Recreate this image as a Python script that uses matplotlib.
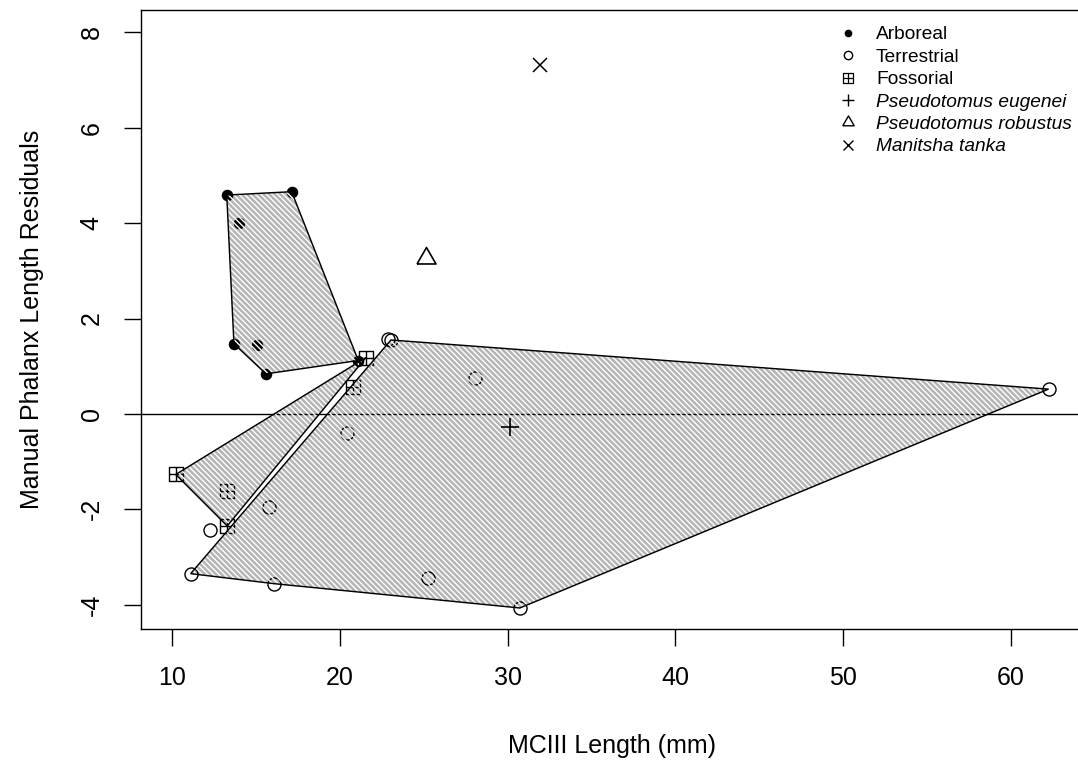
import numpy as np
import matplotlib.pyplot as plt
from matplotlib.path import Path
from matplotlib.patches import Polygon
from matplotlib.lines import Line2D

plt.rcParams['font.family'] = ['Liberation Sans', 'DejaVu Sans']
plt.rcParams['hatch.linewidth'] = 1.0
plt.rcParams['axes.unicode_minus'] = False

# group points (MCIII length, residual)
arb_x = [13.26, 17.13, 14.01, 13.69, 15.08, 15.60, 21.10]
arb_y = [4.59, 4.66, 4.01, 1.47, 1.45, 0.84, 1.12]
ter_x = [11.11, 12.26, 15.80, 16.08, 20.44, 22.85, 23.05, 25.27, 28.05, 30.73, 62.25]
ter_y = [-3.35, -2.44, -1.95, -3.56, -0.39, 1.58, 1.55, -3.45, 0.76, -4.07, 0.52]
fos_x = [10.22, 13.26, 13.29, 20.80, 21.55]
fos_y = [-1.27, -1.62, -2.35, 0.56, 1.18]

# polygon outlines (indices into each group)
arb_hull = [0, 1, 6, 5, 3]
ter_hull = [0, 6, 10, 9, 3]
fos_hull = [0, 4, 2]

# fossil specimens
eug_x, eug_y = 30.13, -0.27
rob_x, rob_y = 25.11, 3.27
man_x, man_y = 31.92, 7.31

labels = ['Arboreal', 'Terrestrial', 'Fossorial', 'Pseudotomus eugenei',
          'Pseudotomus robustus', 'Manitsha tanka']

# square with a cross (R pch 12)
sq_plus = Path([(-1, -1), (1, -1), (1, 1), (-1, 1), (-1, -1),
                (0, -1), (0, 1), (-1, 0), (1, 0)],
               [Path.MOVETO, Path.LINETO, Path.LINETO, Path.LINETO, Path.CLOSEPOLY,
                Path.MOVETO, Path.LINETO, Path.MOVETO, Path.LINETO])
tri = [(-1, -0.577), (1, -0.577), (0, 1.155), (-1, -0.577)]

fig = plt.figure(figsize=(10.78, 7.66), dpi=100)
ax = fig.add_axes([0.1305, 0.1789, 0.8741, 0.808])

ax.axhline(0, color='black', lw=1.0, zorder=1)

ax.plot(arb_x, arb_y, 'o', color='black', ms=7.3, zorder=1.5)
ax.plot(ter_x, ter_y, 'o', mfc='none', mec='black', mew=1.0, ms=9.4, zorder=1.5)
ax.plot(fos_x, fos_y, ls='none', marker=sq_plus, mfc='none', mec='black', mew=1.0,
        ms=9.5, zorder=1.5)

for gx, gy, hull in [(arb_x, arb_y, arb_hull), (fos_x, fos_y, fos_hull),
                     (ter_x, ter_y, ter_hull)]:
    pts = np.column_stack([np.array(gx)[hull], np.array(gy)[hull]])
    ax.add_patch(Polygon(pts, closed=True, facecolor=(0, 0, 0, 0.29), edgecolor='white',
                         lw=0, hatch='\\' * 6, zorder=2))
    ax.add_patch(Polygon(pts, closed=True, facecolor='none', edgecolor='black',
                         lw=1.05, zorder=3))

ax.plot(eug_x, eug_y, '+', color='black', ms=13.5, mew=1.2, zorder=4)
ax.plot(rob_x, rob_y, ls='none', marker=tri, mfc='none', mec='black', mew=1.2,
        ms=15.8, zorder=4)
ax.plot(man_x, man_y, 'x', color='black', ms=9.5, mew=1.1, zorder=4)

ax.set_xlim(8.13, 64.3)
ax.set_ylim(-4.51, 8.47)
ax.set_xticks([10, 20, 30, 40, 50, 60])
ax.set_yticks([-4, -2, 0, 2, 4, 6, 8])
ax.tick_params(direction='out', length=12.5, width=1.0, labelsize=18, pad=14)
for lab in ax.get_yticklabels():
    lab.set_rotation(90)
    lab.set_va('center')
for s in ax.spines.values():
    s.set_linewidth(1.0)

ax.set_xlabel('MCIII Length (mm)', fontsize=18, labelpad=32)
ax.set_ylabel('Manual Phalanx Length Residuals', fontsize=18, labelpad=26)

handles = [
    Line2D([], [], ls='none', marker='o', color='black', ms=4.5),
    Line2D([], [], ls='none', marker='o', mfc='none', mec='black', mew=1.0, ms=6),
    Line2D([], [], ls='none', marker=sq_plus, mfc='none', mec='black', mew=0.9, ms=6.5),
    Line2D([], [], ls='none', marker='+', color='black', mew=1.0, ms=8.5),
    Line2D([], [], ls='none', marker=tri, mfc='none', mec='black', mew=1.0, ms=9.5),
    Line2D([], [], ls='none', marker='x', color='black', mew=1.0, ms=6.5),
]
leg = ax.legend(handles, labels, loc='upper left', bbox_to_anchor=(838.7 / 1078, 1 - 26 / 766),
                bbox_transform=fig.transFigure, frameon=False, fontsize=13.8,
                handlelength=1.0, handletextpad=0.95, labelspacing=0.26, borderpad=0,
                borderaxespad=0)
for t in leg.get_texts()[3:]:
    t.set_style('italic')

fig.savefig('out.png', dpi=100)
